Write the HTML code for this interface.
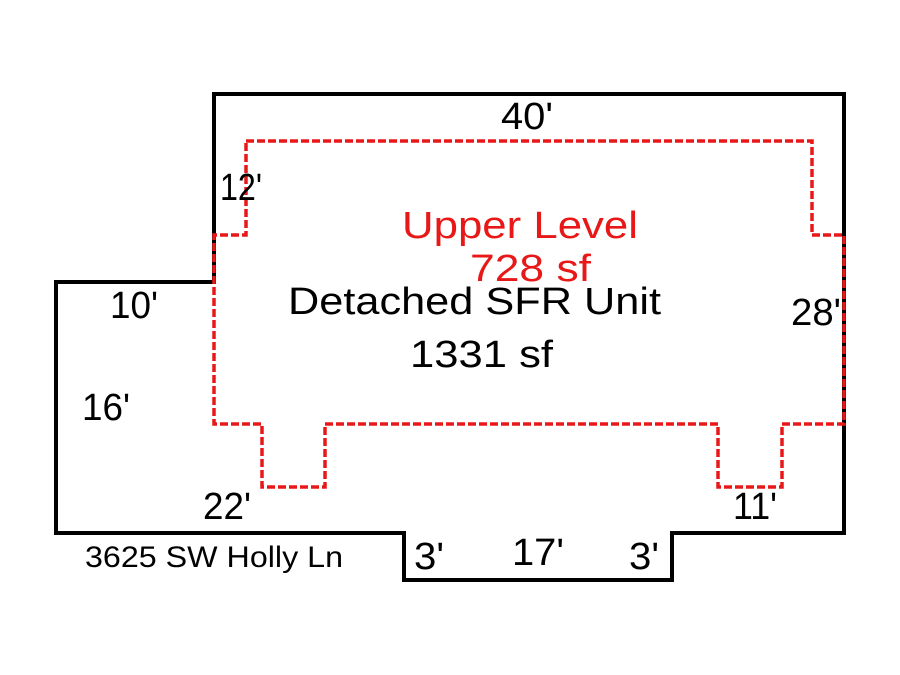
<!DOCTYPE html>
<html><head><style>html,body{margin:0;padding:0;background:#fff}svg{display:block}</style></head>
<body>
<svg width="900" height="675" viewBox="0 0 900 675" xmlns="http://www.w3.org/2000/svg" font-family="Liberation Sans, Arial, sans-serif">
<rect width="900" height="675" fill="#fff"/>
<polygon points="214,94 844,94 844,533 672,533 672,580 404,580 404,533 56,533 56,282 214,282" fill="none" stroke="#000" stroke-width="4" stroke-linejoin="miter"/>
<polygon points="246,141 812,141 812,235 844,235 844,424 782,424 782,487 718,487 718,424 325,424 325,487 262,487 262,424 214,424 214,235 246,235" fill="none" stroke="#e81818" stroke-width="3.5" stroke-dasharray="8,3"/>
<g font-size="38" fill="#000">
<text x="501" y="129" textLength="52" lengthAdjust="spacingAndGlyphs">40'</text>
<text x="220" y="200" textLength="42" lengthAdjust="spacingAndGlyphs">12'</text>
<text x="288" y="314" textLength="373" lengthAdjust="spacingAndGlyphs">Detached SFR Unit</text>
<text x="410" y="367" textLength="143" lengthAdjust="spacingAndGlyphs">1331 sf</text>
<text x="791" y="325" textLength="50" lengthAdjust="spacingAndGlyphs">28'</text>
<text x="110" y="318" textLength="48" lengthAdjust="spacingAndGlyphs">10'</text>
<text x="82" y="420" textLength="48" lengthAdjust="spacingAndGlyphs">16'</text>
<text x="203" y="519" textLength="48" lengthAdjust="spacingAndGlyphs">22'</text>
<text x="733" y="519" textLength="44" lengthAdjust="spacingAndGlyphs">11'</text>
<text x="414" y="569" textLength="30" lengthAdjust="spacingAndGlyphs">3'</text>
<text x="512" y="565" textLength="52" lengthAdjust="spacingAndGlyphs">17'</text>
<text x="629" y="569" textLength="30" lengthAdjust="spacingAndGlyphs">3'</text>
</g>
<g font-size="38" fill="#e81818">
<text x="402" y="238" textLength="236" lengthAdjust="spacingAndGlyphs">Upper Level</text>
<text x="470" y="281" textLength="121" lengthAdjust="spacingAndGlyphs">728 sf</text>
</g>
<text x="85" y="567" font-size="30" fill="#000" textLength="258" lengthAdjust="spacingAndGlyphs">3625 SW Holly Ln</text>
</svg>
</body></html>
